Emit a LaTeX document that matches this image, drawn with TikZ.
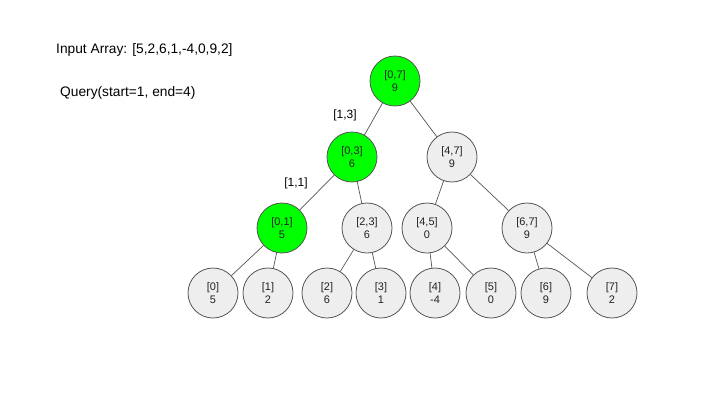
\documentclass[tikz,border=0pt]{standalone}
\usepackage{fontspec}
\setmainfont{Liberation Sans}
\begin{document}
\begin{tikzpicture}[x=1bp,y=-1bp]
\definecolor{hl}{HTML}{00FF00}
\definecolor{nodegray}{HTML}{EEEEEE}
\definecolor{bordergray}{HTML}{555555}
\definecolor{txt}{HTML}{222222}
\tikzset{
  segnode/.style={circle, draw=bordergray, line width=0.8bp, fill=nodegray, minimum size=50bp, inner sep=0pt, align=center, text=txt, font=\fontsize{11}{12.5}\selectfont},
  hlnode/.style={segnode, fill=hl},
  edge/.style={draw=bordergray, line width=0.7bp},
  plain/.style={font=\fontsize{13.8}{15}\selectfont, text=black, anchor=west, inner sep=0pt},
  edgelab/.style={font=\fontsize{12}{14}\selectfont, inner sep=0pt}
}
\useasboundingbox[fill=white] (0,0) rectangle (720,405);
\node[plain] (inp) at (56,50) {Input Array: [5,2,6,1,-4,0,9,2]};
\node[plain] (qry) at (60,93) {Query(start=1, end=4)};
\node[hlnode] (r) at (395,81) {[0,7]\\9};
\node[hlnode] (a) at (352,157) {[0,3]\\6};
\node[segnode] (b) at (452,157) {[4,7]\\9};
\node[hlnode] (c) at (282,228) {[0,1]\\5};
\node[segnode] (d) at (367,228) {[2,3]\\6};
\node[segnode] (e) at (427,228) {[4,5]\\0};
\node[segnode] (f) at (527,228) {[6,7]\\9};
\node[segnode] (l0) at (213,293) {[0]\\5};
\node[segnode] (l1) at (268,293) {[1]\\2};
\node[segnode] (l2) at (327,293) {[2]\\6};
\node[segnode] (l3) at (381,293) {[3]\\1};
\node[segnode] (l4) at (435,293) {[4]\\-4};
\node[segnode] (l5) at (491,293) {[5]\\0};
\node[segnode] (l6) at (546,293) {[6]\\9};
\node[segnode] (l7) at (612,293) {[7]\\2};
\draw[edge] (r) -- (a);
\draw[edge] (r) -- (b);
\draw[edge] (a) -- (c);
\draw[edge] (a) -- (d);
\draw[edge] (b) -- (e);
\draw[edge] (b) -- (f);
\draw[edge] (c) -- (l0);
\draw[edge] (c) -- (l1);
\draw[edge] (d) -- (l2);
\draw[edge] (d) -- (l3);
\draw[edge] (e) -- (l4);
\draw[edge] (e) -- (l5);
\draw[edge] (f) -- (l6);
\draw[edge] (f) -- (l7);
\node[edgelab] (lab1) at (345,115) {[1,3]};
\node[edgelab] (lab2) at (296,183) {[1,1]};
\end{tikzpicture}
\end{document}
